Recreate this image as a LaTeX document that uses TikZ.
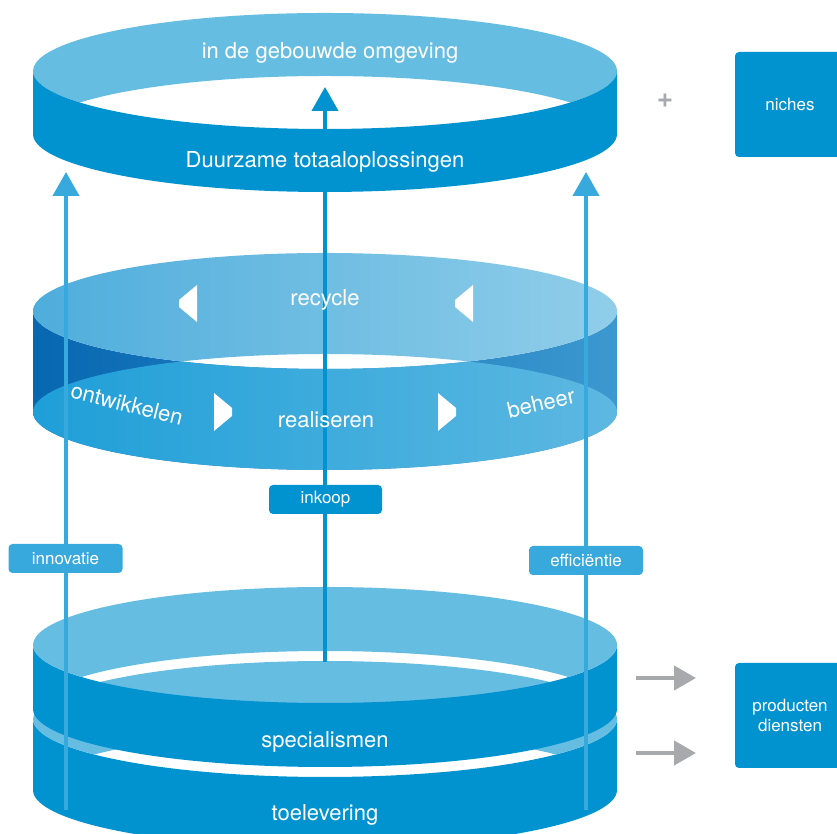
\documentclass[tikz,border=0pt]{standalone}
\usepackage{fontspec}
\setmainfont{TeX Gyre Heros}
\usetikzlibrary{arrows.meta}
\definecolor{dkblue}{HTML}{0093D0}
\definecolor{ltblue}{HTML}{66BDE2}
\definecolor{lnblue}{HTML}{38A9DD}
\definecolor{mcresL}{HTML}{4AABDB}
\definecolor{mcresR}{HTML}{95D0EA}
\definecolor{mwallL}{HTML}{1A9DD7}
\definecolor{mwallR}{HTML}{62BAE2}
\definecolor{mdarkL}{HTML}{0767B1}
\definecolor{mdarkR}{HTML}{3C98CF}
\definecolor{arrgray}{HTML}{A7A9AC}
\newcommand{\ringset}[5]{%
 \pgfmathsetmacro\rgcx{#1}%
 \pgfmathsetmacro\rgyt{#2}%
 \pgfmathsetmacro\rgyb{#3}%
 \pgfmathsetmacro\rgR{#4}%
 \pgfmathsetmacro\rgr{#5}%
 \pgfmathsetmacro\rgal{asin((#2-#3)/(2*#5))}%
 \pgfmathsetmacro\rgmid{(#2+#3)/2}%
 \pgfmathsetmacro\rgxl{#1-#4*cos(\rgal)}%
 \pgfmathsetmacro\rgxr{#1+#4*cos(\rgal)}%
}
\newcommand{\ringfront}[1]{\path[#1] (\rgcx-\rgR,\rgyt) -- (\rgcx-\rgR,\rgyb)
  arc[start angle=180,end angle=360,x radius=\rgR pt,y radius=\rgr pt] -- (\rgcx+\rgR,\rgyt)
  arc[start angle=0,end angle=-180,x radius=\rgR pt,y radius=\rgr pt] -- cycle;}
\newcommand{\ringcres}[1]{\path[#1] (\rgxr,\rgmid)
  arc[start angle=-\rgal,end angle=180+\rgal,x radius=\rgR pt,y radius=\rgr pt]
  arc[start angle=180-\rgal,end angle=\rgal,x radius=\rgR pt,y radius=\rgr pt] -- cycle;}
\newcommand{\ringwall}[1]{\path[#1] (\rgxl,\rgmid)
  arc[start angle=180-\rgal,end angle=360+\rgal,x radius=\rgR pt,y radius=\rgr pt]
  arc[start angle=360-\rgal,end angle=180+\rgal,x radius=\rgR pt,y radius=\rgr pt] -- cycle;}
\begin{document}
\begin{tikzpicture}[x=1pt,y=1pt,
  bigtxt/.style={text=white,font=\fontsize{22}{26}\selectfont,inner sep=0pt},
  smalltxt/.style={text=white,font=\fontsize{17}{21}\selectfont},
  tagbox/.style={smalltxt,rounded corners=4pt,minimum width=114pt,minimum height=29pt,inner sep=0pt},
  sidebox/.style={smalltxt,fill=dkblue,rounded corners=4pt,minimum width=110pt,minimum height=105pt,inner sep=0pt,align=center},
  sideline/.style={draw=lnblue,line width=4pt,-{Triangle[width=26pt,length=24pt]}},
  centerline/.style={draw=dkblue,line width=4pt,-{Triangle[width=26pt,length=24pt]}},
  grayarrow/.style={draw=arrgray,line width=4.5pt,-{Triangle[width=24pt,length=22pt]}},
  chev/.style={fill=white}]
\useasboundingbox (0,0) rectangle (837,834);

% bottom ring B (toelevering)
\ringset{325}{115}{44}{292}{58}
\ringfront{fill=dkblue}
\ringcres{fill=ltblue}
% bottom ring A (specialismen)
\ringset{325}{189}{125}{292}{58}
\ringfront{fill=dkblue}
\ringcres{fill=ltblue}

% middle ring
\ringset{325}{523}{422}{292}{58}
\ringfront{shade,left color=mdarkL,right color=mdarkR}
\ringwall{shade,left color=mwallL,right color=mwallR}
\ringcres{shade,left color=mcresL,right color=mcresR}

% top ring back
\ringset{325}{763}{700}{292}{58}
\ringcres{fill=ltblue}

% connectors
\coordinate (lb) at (66,24);
\coordinate (lt) at (66,662);
\coordinate (rb) at (586,24);
\coordinate (rt) at (586,662);
\coordinate (cb) at (325,172);
\coordinate (ct) at (325,747);
\draw[sideline] (lb) -- (lt);
\draw[sideline] (rb) -- (rt);
\draw[centerline] (cb) -- (ct);

% top ring front
\ringset{325}{763}{700}{292}{58}
\ringfront{fill=dkblue}

% chevrons in middle ring
\fill[chev] (197,549) -- (179,534) -- (179,527) -- (197,512) -- cycle;
\fill[chev] (473,549) -- (455,534) -- (455,527) -- (473,512) -- cycle;
\fill[chev] (214,441) -- (232,426) -- (232,418) -- (214,403) -- cycle;
\fill[chev] (438,441) -- (456,426) -- (456,418) -- (438,403) -- cycle;

% ring texts
\node[bigtxt] (t1) at (330,781) {in de gebouwde omgeving};
\node[bigtxt] (t2) at (325,672) {Duurzame totaaloplossingen};
\node[bigtxt] (t3) at (325,534) {recycle};
\node[bigtxt] (t4) at (326,414) {realiseren};
\node[bigtxt,rotate=-14] (t5) at (127,430) {ontwikkelen};
\node[bigtxt,rotate=13] (t6) at (541,431) {beheer};
\node[bigtxt] (t7) at (325,92) {specialismen};
\node[bigtxt] (t8) at (325,19) {toelevering};

% tags
\node[tagbox,fill=dkblue,minimum width=113pt] (inkoop) at (325.5,334.5) {inkoop};
\node[tagbox,fill=lnblue] (innov) at (65.5,275.5) {innovatie};
\node[tagbox,fill=lnblue] (effic) at (586,273.5) {efficiëntie};

% right side
\node[text=arrgray,font=\fontsize{28}{28}\selectfont\bfseries] (plus) at (665,733) {+};
\node[sidebox] (niches) at (790,729.5) {niches};
\node[sidebox] (prod) at (790,118.5) {producten\\[-1pt]diensten};
\coordinate (g1s) at (636,156);
\coordinate (g1e) at (696,156);
\coordinate (g2s) at (636,81);
\coordinate (g2e) at (696,81);
\draw[grayarrow] (g1s) -- (g1e);
\draw[grayarrow] (g2s) -- (g2e);
\end{tikzpicture}
\end{document}
